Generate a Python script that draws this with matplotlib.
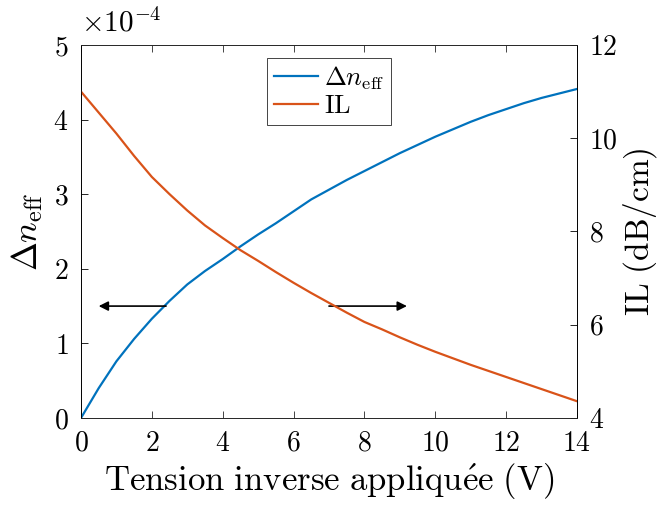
import matplotlib
matplotlib.use("Agg")
import matplotlib.pyplot as plt

plt.rcParams["mathtext.fontset"] = "cm"
plt.rcParams["font.family"] = ["cmr10", "DejaVu Serif"]
plt.rcParams["axes.formatter.use_mathtext"] = True

# data
tension = [0, 0.5, 1, 1.5, 2, 2.5, 3, 3.5, 4, 4.5, 5, 5.5, 6, 6.5, 7,
           7.5, 8, 8.5, 9, 9.5, 10, 10.5, 11, 11.5, 12, 12.5, 13, 13.5, 14]
dneff_e4 = [0, 0.40, 0.76, 1.06, 1.33, 1.57, 1.79, 1.97, 2.13, 2.30, 2.46,
            2.61, 2.77, 2.93, 3.06, 3.19, 3.31, 3.43, 3.55, 3.66, 3.77,
            3.87, 3.97, 4.06, 4.14, 4.22, 4.29, 4.35, 4.41]
il_db = [11.0, 10.55, 10.1, 9.62, 9.17, 8.8, 8.45, 8.13, 7.86, 7.6, 7.37,
         7.13, 6.9, 6.68, 6.47, 6.26, 6.06, 5.9, 5.73, 5.57, 5.42, 5.28,
         5.14, 5.01, 4.88, 4.75, 4.62, 4.49, 4.36]

blue = "#0072BD"
orange = "#D95319"
axcol = "#262626"

fig = plt.figure(figsize=(6.6, 5.11), dpi=100)
ax = fig.add_axes([0.1227, 0.182, 0.7515, 0.730])
ax2 = ax.twinx()

l1, = ax.plot(tension, dneff_e4, color=blue, lw=1.6)
l2, = ax2.plot(tension, il_db, color=orange, lw=1.6)

ax.set_xlim(0, 14)
ax.set_ylim(0, 5)
ax2.set_ylim(4, 12)
ax.set_xticks(range(0, 15, 2))
ax.set_yticks(range(0, 6))
ax2.set_yticks(range(4, 13, 2))

ax.tick_params(direction="in", length=5, width=0.6, labelsize=20, pad=9,
               colors=axcol, labelcolor="black", top=True)
ax.tick_params(axis="y", colors="black")
ax2.tick_params(direction="in", length=5, width=0.6, labelsize=20, pad=9,
                colors="black")
for a in (ax, ax2):
    for s in a.spines.values():
        s.set_linewidth(0.6)
        s.set_color(axcol)
    a.spines["left"].set_color("black")
    a.spines["right"].set_color("black")

ax.set_xlabel(r"$\mathrm{Tension\ inverse\ appliqu\acute{e}e\ (V)}$", fontsize=25, labelpad=4)
ax.set_ylabel(r"$\Delta n_\mathrm{eff}$", fontsize=25, labelpad=6)
ax2.set_ylabel(r"$\mathrm{IL\ (dB/cm)}$", fontsize=24, labelpad=2)
ax.text(0.0, 1.02, r"$\times 10^{-4}$", transform=ax.transAxes,
        fontsize=21, ha="left", va="bottom")

# arrows pointing to each axis
ax.annotate("", xy=(0.5, 1.5), xytext=(2.4, 1.5),
            arrowprops=dict(arrowstyle="-|>", color="black", lw=1.2,
                            mutation_scale=14, shrinkA=0, shrinkB=0))
ax.annotate("", xy=(9.2, 1.5), xytext=(7.0, 1.5),
            arrowprops=dict(arrowstyle="-|>", color="black", lw=1.2,
                            mutation_scale=14, shrinkA=0, shrinkB=0))

leg = ax2.legend([l1, l2], [r"$\Delta n_\mathrm{eff}$", r"$\mathrm{IL}$"],
                 loc="upper left", bbox_to_anchor=(0.375, 0.965),
                 borderaxespad=0, fontsize=19, fancybox=False,
                 framealpha=1, edgecolor=axcol, handlelength=1.7,
                 handletextpad=0.2, labelspacing=0.1, borderpad=0.25)
leg.get_frame().set_linewidth(0.6)

fig.savefig("out.png", dpi=100)
